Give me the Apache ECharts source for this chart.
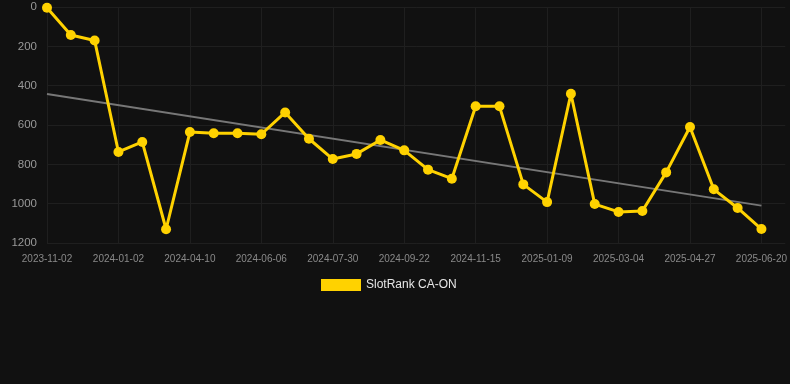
<!DOCTYPE html>
<html>
<head>
<meta charset="utf-8">
<style>
html,body{margin:0;padding:0;background:#111111;}
#chart{width:790px;height:384px;}
</style>
<script src="https://cdn.jsdelivr.net/npm/echarts@6/dist/echarts.min.js"></script>
</head>
<body>
<div id="chart"></div>
<script>
var categories = [
  '2023-11-02','2023-11-22','2023-12-12','2024-01-02','2024-02-04','2024-03-08',
  '2024-04-10','2024-04-29','2024-05-18','2024-06-06','2024-06-24','2024-07-12',
  '2024-07-30','2024-08-17','2024-09-04','2024-09-22','2024-10-10','2024-10-28',
  '2024-11-15','2024-12-03','2024-12-21','2025-01-09','2025-01-27','2025-02-14',
  '2025-03-04','2025-03-22','2025-04-09','2025-04-27','2025-05-15','2025-06-02',
  '2025-06-20',''
];
var rankValues = [
  4, 142, 170, 737, 686, 1130, 636, 642, 642, 647,
  536, 670, 773, 747, 676, 729, 827, 873, 505, 505,
  902, 992, 441, 1002, 1042, 1037, 841, 610, 927, 1022,
  1129
];
var trendStart = 442;
var trendEnd = 1010;
var yTicks = { min: 0, max: 1200, interval: 200 };
var seriesName = 'SlotRank CA-ON';

var trendData = [[0, trendStart], [rankValues.length - 1, trendEnd]];

var chart = echarts.init(document.getElementById('chart'), null, {renderer: 'canvas'});
var font = 'Liberation Sans, Arial, sans-serif';
chart.setOption({
  backgroundColor: '#111111',
  animation: false,
  textStyle: { fontFamily: font },
  grid: { left: 47, right: 4, top: 7, bottom: 141, containLabel: false },
  legend: {
    data: [seriesName],
    left: 316,
    top: 274,
    itemWidth: 40,
    itemHeight: 12,
    itemGap: 10,
    icon: 'rect',
    textStyle: { color: '#e6e6e6', fontSize: 12, fontFamily: font }
  },
  xAxis: {
    type: 'category',
    data: categories,
    boundaryGap: false,
    axisLine: { show: false },
    axisTick: { show: false },
    axisLabel: { interval: 2, color: '#8a8a8a', fontSize: 10, margin: 11, fontFamily: font },
    splitLine: { show: true, interval: 2, lineStyle: { color: '#1f1f1f', width: 1 } }
  },
  yAxis: {
    type: 'value',
    inverse: true,
    min: yTicks.min,
    max: yTicks.max,
    interval: yTicks.interval,
    axisLine: { show: false },
    axisTick: { show: false },
    axisLabel: {
      color: '#999999', fontSize: 11.5, margin: 10, fontFamily: font,
      formatter: function (v) { return String(v); }
    },
    splitLine: { show: true, lineStyle: { color: '#1f1f1f', width: 1 } }
  },
  series: [
    {
      name: seriesName,
      type: 'line',
      data: rankValues,
      symbol: 'circle',
      symbolSize: 10,
      lineStyle: { color: '#FFD200', width: 3 },
      itemStyle: { color: '#FFD200' },
      z: 3
    },
    {
      name: 'trend',
      type: 'line',
      data: trendData,
      symbol: 'none',
      lineStyle: { color: '#777777', width: 2 },
      itemStyle: { color: '#777777' },
      z: 2,
      silent: true
    }
  ]
});
</script>
</body>
</html>
